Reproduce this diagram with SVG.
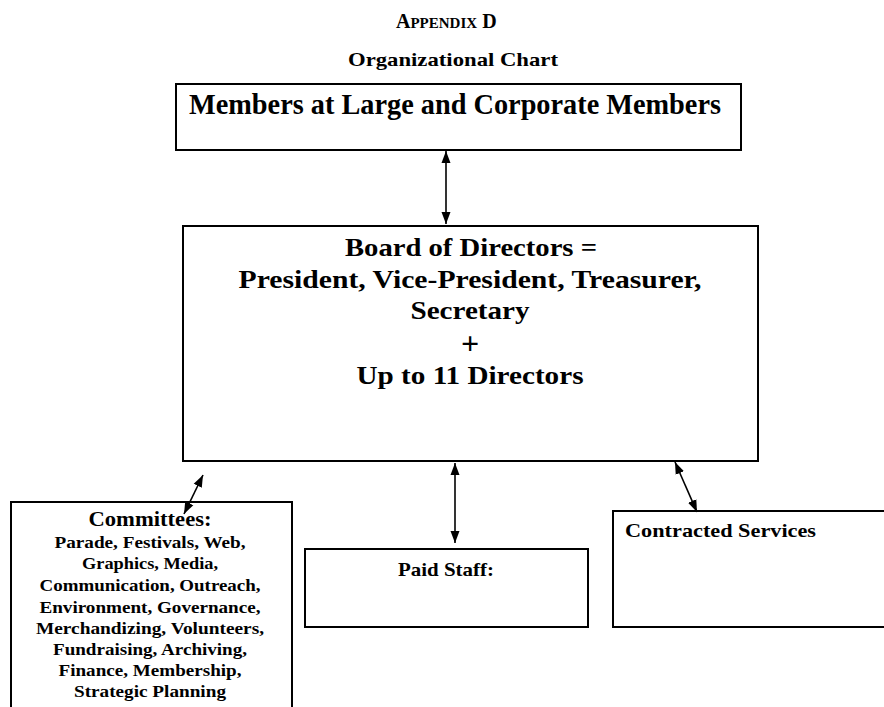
<svg xmlns="http://www.w3.org/2000/svg" width="884" height="707" viewBox="0 0 884 707">
<style>
  text { font-family: "Liberation Serif", "Times New Roman", serif; font-weight: bold; fill: #000; }
  .box { fill: #fff; stroke: #000; stroke-width: 2; }
  .conn { stroke: #000; stroke-width: 1.6; fill: none; marker-start: url(#ah); marker-end: url(#ah); }
  .big { font-size: 29px; }
  .brd { font-size: 26px; text-anchor: middle; }
  .cm { font-size: 17px; text-anchor: middle; }
  .md { font-size: 19px; }
</style>
<defs>
  <marker id="ah" viewBox="0 0 12 10" refX="12" refY="5" markerWidth="12" markerHeight="10" markerUnits="userSpaceOnUse" orient="auto-start-reverse">
    <path d="M0,0.5 L12,5 L0,9.5 Z" fill="#000"/>
  </marker>
</defs>
<rect width="884" height="707" fill="#fff"/>

<g id="title">
  <text x="396" y="28"><tspan style="font-size:20px">A</tspan><tspan style="font-size:15px">PPENDIX</tspan><tspan style="font-size:20px"> D</tspan></text>
  <text x="348" y="66" style="font-size:19px" textLength="210" lengthAdjust="spacingAndGlyphs">Organizational Chart</text>
</g>

<g id="members">
  <rect class="box" x="176" y="84" width="565" height="66"/>
  <text class="big" x="189" y="114" textLength="532" lengthAdjust="spacingAndGlyphs">Members at Large and Corporate Members</text>
</g>

<g id="board">
  <rect class="box" x="183" y="226" width="575" height="235"/>
  <text class="brd" x="471" y="256" textLength="252" lengthAdjust="spacingAndGlyphs">Board of Directors =</text>
  <text class="brd" x="470" y="288" textLength="463" lengthAdjust="spacingAndGlyphs">President, Vice-President, Treasurer,</text>
  <text class="brd" x="470" y="319" textLength="119" lengthAdjust="spacingAndGlyphs">Secretary</text>
  <text class="brd" x="470" y="354" style="font-size:32px">+</text>
  <text class="brd" x="470" y="384" textLength="227" lengthAdjust="spacingAndGlyphs">Up to 11 Directors</text>
</g>

<g id="committees">
  <rect class="box" x="11" y="502" width="281" height="220"/>
  <text class="cm" x="150" y="526" style="font-size:20px" textLength="123" lengthAdjust="spacingAndGlyphs">Committees:</text>
  <text class="cm" x="150" y="548" textLength="191" lengthAdjust="spacingAndGlyphs">Parade, Festivals, Web,</text>
  <text class="cm" x="150" y="569" textLength="136" lengthAdjust="spacingAndGlyphs">Graphics, Media,</text>
  <text class="cm" x="150" y="591" textLength="221" lengthAdjust="spacingAndGlyphs">Communication, Outreach,</text>
  <text class="cm" x="150" y="613" textLength="221" lengthAdjust="spacingAndGlyphs">Environment, Governance,</text>
  <text class="cm" x="150" y="634" textLength="228" lengthAdjust="spacingAndGlyphs">Merchandizing, Volunteers,</text>
  <text class="cm" x="150" y="655" textLength="194" lengthAdjust="spacingAndGlyphs">Fundraising, Archiving,</text>
  <text class="cm" x="150" y="676" textLength="183" lengthAdjust="spacingAndGlyphs">Finance, Membership,</text>
  <text class="cm" x="150" y="697" textLength="152" lengthAdjust="spacingAndGlyphs">Strategic Planning</text>
</g>

<g id="paid-staff">
  <rect class="box" x="305" y="549" width="283" height="78"/>
  <text class="md" x="398" y="576" textLength="96" lengthAdjust="spacingAndGlyphs">Paid Staff:</text>
</g>

<g id="contracted-services">
  <rect class="box" x="613" y="511" width="285" height="116"/>
  <text class="md" x="625" y="537" textLength="191" lengthAdjust="spacingAndGlyphs">Contracted Services</text>
</g>

<g id="connectors">
  <line class="conn" x1="446" y1="151" x2="446" y2="224"/>
  <line class="conn" x1="203" y1="475" x2="184" y2="514"/>
  <line class="conn" x1="455" y1="463" x2="455" y2="543"/>
  <line class="conn" x1="675" y1="462" x2="697" y2="512"/>
</g>
</svg>
